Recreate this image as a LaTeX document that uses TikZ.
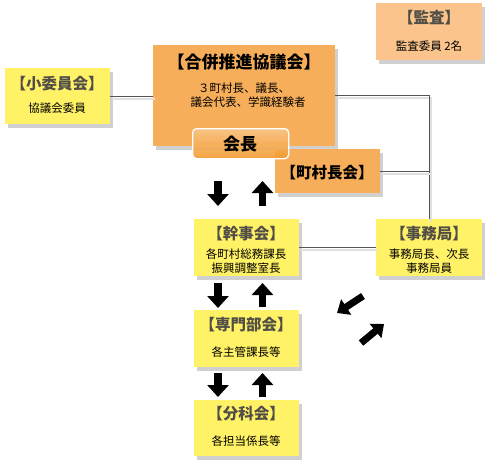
\documentclass[tikz,border=0pt]{standalone}
\usepackage{fontspec}
\setmainfont{Noto Sans CJK JP}
\usetikzlibrary{shadows,arrows.meta}
\definecolor{orng}{RGB}{247,174,90}
\definecolor{lorng}{RGB}{251,196,140}
\definecolor{yel}{RGB}{255,242,102}
\definecolor{dorng}{RGB}{243,154,44}
\definecolor{ttl}{RGB}{80,78,70}
\definecolor{lne}{RGB}{85,85,85}
\tikzset{
  box/.style={rectangle, anchor=north west, inner sep=0pt, draw=none,
    drop shadow={shadow xshift=3pt, shadow yshift=-4pt, opacity=0.3, fill=black!60}},
  ttlgray/.style={font=\bfseries\fontsize{15.5}{16}\selectfont, text=ttl, inner sep=0pt},
  ttlblack/.style={font=\bfseries\fontsize{15.5}{16}\selectfont, text=black, inner sep=0pt},
  body/.style={font=\fontsize{11.5}{12}\selectfont, text=black, inner sep=0pt, align=center},
  conn/.style={draw=lne, line width=1pt,
    preaction={draw=black!12, line width=2pt, transform canvas={shift={(1.5pt,-2.5pt)}}}},
  barrow/.style={line width=7.5pt, -{Triangle[width=21pt,length=12pt]}},
  sarrow/.style={line width=7pt, -{Triangle[width=18pt,length=11pt]}},
}
\begin{document}
\begin{tikzpicture}[x=1pt,y=-1pt]
\useasboundingbox (0,0) rectangle (490,469);
\fill[white] (0,0) rectangle (490,469);

% boxes
\node[box, fill=lorng, minimum width=106pt, minimum height=57pt] (kansa) at (376,3) {};
\node[box, fill=orng, minimum width=182pt, minimum height=101pt] (kyogi) at (153,45) {};
\node[box, fill=yel, minimum width=105pt, minimum height=56pt] (shoi) at (5,68) {};
\node[box, fill=orng, minimum width=105pt, minimum height=44pt] (chou) at (275,149) {};
\node[rectangle, anchor=north west, inner sep=0pt, rounded corners=4pt,
  draw=white, line width=1.3pt, top color=orng!70!white, bottom color=dorng,
  fill opacity=0.9, minimum width=96pt, minimum height=30pt] (kaicho) at (192,128) {};
\node[box, fill=yel, minimum width=105pt, minimum height=57pt] (kanji) at (194,219) {};
\node[box, fill=yel, minimum width=106pt, minimum height=57pt] (jimu) at (376,219) {};
\node[box, fill=yel, minimum width=105pt, minimum height=57pt] (senmon) at (194,310) {};
\node[box, fill=yel, minimum width=105pt, minimum height=56pt] (bunka) at (194,400) {};

% connectors
\draw[conn] (shoi.east) -- (shoi.east -| kyogi.west);
\draw[conn] (kyogi.east) -| (jimu.north);
\draw[conn] (chou.east) -- (chou.east -| jimu.north);
\draw[conn] (kanji.east) -- (jimu.west);

% texts
\node[ttlgray] (kansaT) at (429,18) {【監査】};
\node[body] (kansaB) at (429,46) {監査委員 2名};
\node[ttlblack, font=\bfseries\fontsize{17}{18}\selectfont] (kyogiT) at (244,62) {【合併推進協議会】};
\node[body] (kyogiB1) at (244,88) {３町村長、議長、};
\node[body] (kyogiB2) at (248,102) {議会代表、学識経験者};
\node[ttlgray] (shoiT) at (57,84) {【小委員会】};
\node[body] (shoiB) at (57,108) {協議会委員};
\node[ttlblack, font=\bfseries\fontsize{17}{18}\selectfont] (kaichoT) at (240,144) {会長};
\node[ttlblack] (chouT) at (327,173) {【町村長会】};
\node[ttlgray] (kanjiT) at (246,234) {【幹事会】};
\node[body] (kanjiB1) at (246,254) {各町村総務課長};
\node[body] (kanjiB2) at (246,268) {振興調整室長};
\node[ttlgray] (jimuT) at (429,234) {【事務局】};
\node[body] (jimuB1) at (429,254) {事務局長、次長};
\node[body] (jimuB2) at (429,268) {事務局員};
\node[ttlgray] (senmonT) at (246,325) {【専門部会】};
\node[body] (senmonB) at (246,352) {各主管課長等};
\node[ttlgray] (bunkaT) at (246,414) {【分科会】};
\node[body] (bunkaB) at (246,441) {各担当係長等};

% block arrows
\draw[barrow] (218,181) -- (218,206);
\draw[barrow] (262.5,206) -- (262.5,181);
\draw[barrow] (218,283) -- (218,308);
\draw[barrow] (262.5,307) -- (262.5,283);
\draw[barrow] (218,373) -- (218,397);
\draw[barrow] (262.5,397) -- (262.5,373);
\draw[sarrow] (363,296) -- (337,313);
\draw[sarrow] (361,343) -- (384,324);
\end{tikzpicture}
\end{document}
